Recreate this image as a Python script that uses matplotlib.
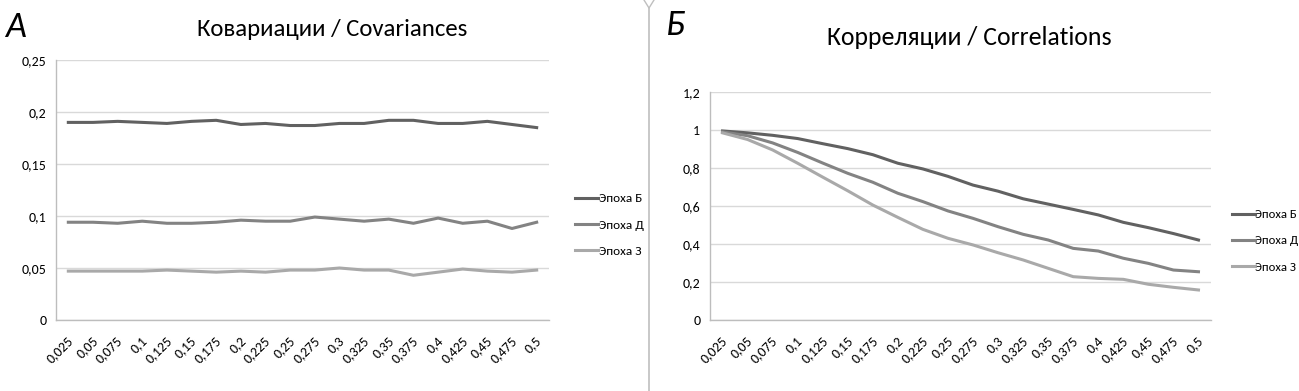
import matplotlib
matplotlib.use("Agg")
import matplotlib.pyplot as plt
import matplotlib.transforms as mtransforms
import numpy as np
from matplotlib.lines import Line2D
from matplotlib import font_manager

# Calibri look-alike if available
installed = set(f.name for f in font_manager.fontManager.ttflist)
main_font = [f for f in ['Carlito', 'Liberation Sans', 'DejaVu Sans'] if f in installed]
plt.rcParams['font.family'] = main_font + ['DejaVu Sans']

# data
lags = ["0,025", "0,05", "0,075", "0,1", "0,125", "0,15", "0,175", "0,2", "0,225", "0,25",
        "0,275", "0,3", "0,325", "0,35", "0,375", "0,4", "0,425", "0,45", "0,475", "0,5"]
series_names = ["Эпоха Б", "Эпоха Д", "Эпоха З"]

cov_b = [0.190, 0.190, 0.191, 0.190, 0.189, 0.191, 0.192, 0.188, 0.189, 0.187,
         0.187, 0.189, 0.189, 0.192, 0.192, 0.189, 0.189, 0.191, 0.188, 0.185]
cov_d = [0.094, 0.094, 0.093, 0.095, 0.093, 0.093, 0.094, 0.096, 0.095, 0.095,
         0.099, 0.097, 0.095, 0.097, 0.093, 0.098, 0.093, 0.095, 0.088, 0.094]
cov_z = [0.047, 0.047, 0.047, 0.047, 0.048, 0.047, 0.046, 0.047, 0.046, 0.048,
         0.048, 0.050, 0.048, 0.048, 0.043, 0.046, 0.049, 0.047, 0.046, 0.048]

cor_b = [0.995, 0.985, 0.972, 0.955, 0.928, 0.902, 0.870, 0.825, 0.795, 0.756,
         0.710, 0.678, 0.638, 0.610, 0.582, 0.553, 0.514, 0.486, 0.455, 0.421]
cor_d = [0.990, 0.970, 0.932, 0.882, 0.826, 0.772, 0.725, 0.667, 0.623, 0.574,
         0.535, 0.491, 0.451, 0.421, 0.377, 0.363, 0.325, 0.298, 0.263, 0.254]
cor_z = [0.985, 0.950, 0.895, 0.825, 0.752, 0.680, 0.605, 0.540, 0.477, 0.430,
         0.395, 0.354, 0.316, 0.272, 0.228, 0.219, 0.214, 0.188, 0.172, 0.158]

colors = ["#616161", "#838383", "#a9a9a9"]

W, H = 1299, 391
fig = plt.figure(figsize=(W / 100, H / 100), dpi=100)


def px_axes(x0, y0, x1, y1):
    return fig.add_axes([x0 / W, 1 - y1 / H, (x1 - x0) / W, (y1 - y0) / H])


def fmt_num(v):
    if abs(v) < 1e-9:
        return "0"
    return ("%g" % round(v, 3)).replace('.', ',')


def style(ax, ymax, step):
    ax.set_xlim(-0.5, len(lags) - 0.5)
    ax.set_ylim(0, ymax)
    ticks = np.arange(0, ymax + step / 2, step)
    ax.set_yticks(ticks)
    ax.set_yticklabels([fmt_num(t) for t in ticks], fontsize=10)
    ax.set_xticks(range(len(lags)))
    ax.set_xticklabels(lags, rotation=45, ha='right', va='top',
                       rotation_mode='anchor', fontsize=10)
    ax.tick_params(length=0)
    ax.tick_params(axis='y', pad=7)
    ax.tick_params(axis='x', pad=10)
    shift = mtransforms.ScaledTranslation(-1 / 72, 0, fig.dpi_scale_trans)
    for lab in ax.get_xticklabels():
        lab.set_transform(lab.get_transform() + shift)
    for s in ['top', 'right']:
        ax.spines[s].set_visible(False)
    for s in ['left', 'bottom']:
        ax.spines[s].set_color('#bdbdbd')
        ax.spines[s].set_linewidth(1)
    ax.grid(axis='y', color='#d9d9d9', linewidth=1)
    ax.set_axisbelow(True)


x = np.arange(len(lags))

ax1 = px_axes(56, 60, 549, 320)
for ys, c, n in zip([cov_b, cov_d, cov_z], colors, series_names):
    ax1.plot(x, ys, color=c, linewidth=2.2, label=n)
style(ax1, 0.25, 0.05)

ax2 = px_axes(710, 92, 1211, 320)
for ys, c, n in zip([cor_b, cor_d, cor_z], colors, series_names):
    ax2.plot(x, ys, color=c, linewidth=2.2, label=n)
style(ax2, 1.2, 0.2)

# legends
ax1.legend(loc='center left', bbox_to_anchor=((568 - 56) / 493, (320 - 225) / 260),
           frameon=False, borderpad=0, fontsize=9.5, handlelength=1.8,
           handletextpad=0.05, labelspacing=1.15)
ax2.legend(loc='center left', bbox_to_anchor=((1226 - 710) / 501, (320 - 241) / 228),
           frameon=False, borderpad=0, fontsize=9.2, handlelength=1.8,
           handletextpad=0.0, labelspacing=1.2)

# titles and panel letters
fig.text(332 / W, 1 - 35.5 / H, "Ковариации / Covariances", ha='center', va='baseline',
         fontsize=17.8)
fig.text(969 / W, 1 - 45 / H, "Корреляции / Correlations", ha='center', va='baseline',
         fontsize=18.5)
fig.text(5 / W, 1 - 37 / H, "А", ha='left', va='baseline', fontsize=26, style='italic')
fig.text(666 / W, 1 - 35 / H, "Б", ha='left', va='baseline', fontsize=26, style='italic')

# separator
sep_c = '#bfbfbf'
fig.add_artist(Line2D([649 / W, 649 / W], [0, 1 - 8 / H], color=sep_c, linewidth=1.2,
                      transform=fig.transFigure))
fig.add_artist(Line2D([644 / W, 649 / W, 654 / W], [1, 1 - 8 / H, 1], color=sep_c,
                      linewidth=1.0, transform=fig.transFigure))

plt.savefig('out.png', dpi=100)
